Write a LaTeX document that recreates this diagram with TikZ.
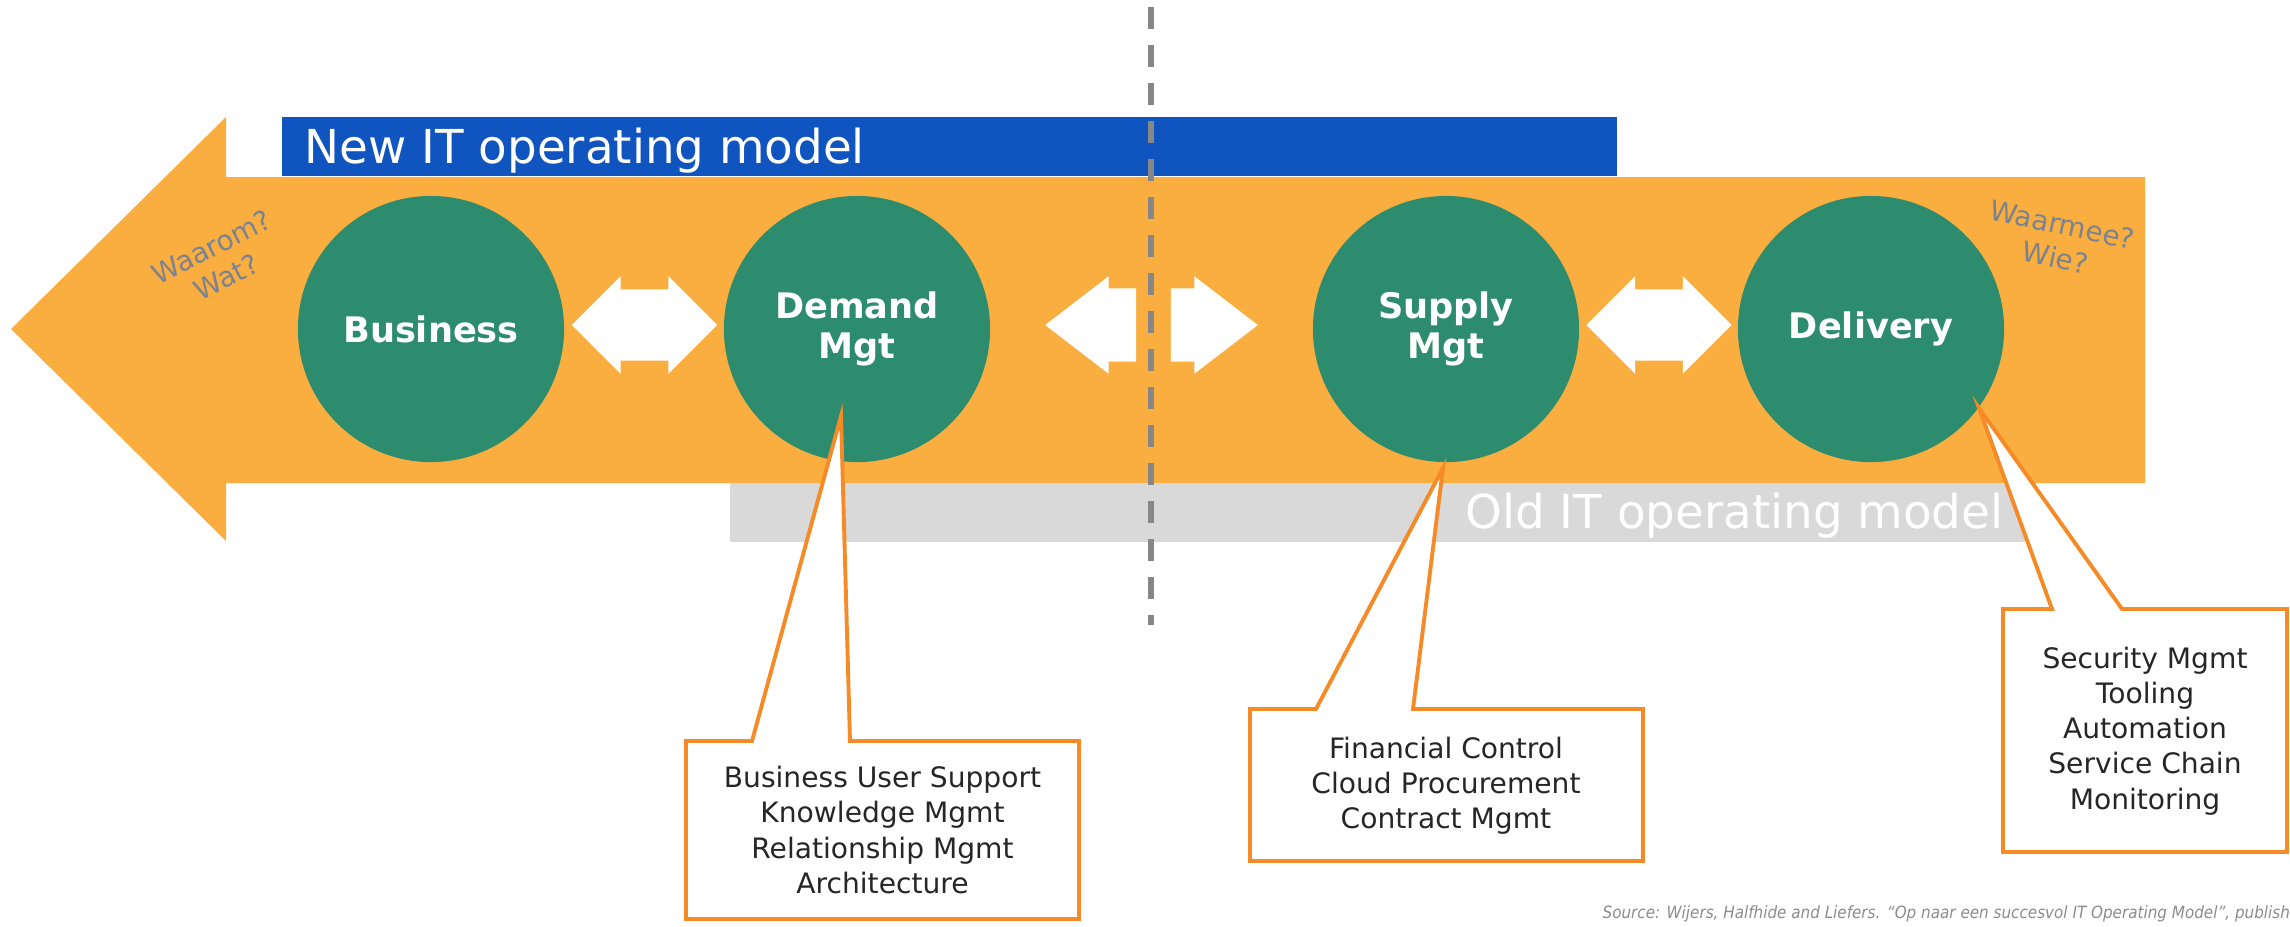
\documentclass[tikz,border=0pt]{standalone}
\usepackage{fontspec}
\setmainfont{DejaVu Sans}
\usepackage{xcolor}
\usepackage{tikz}
\usetikzlibrary{positioning,shapes.arrows}
\definecolor{bandorange}{HTML}{FAAE40}
\definecolor{hubgreen}{HTML}{2D8B6E}
\definecolor{newblue}{HTML}{1055BF}
\definecolor{oldgrey}{HTML}{D9D9D9}
\definecolor{calloutline}{HTML}{F58A26}
\definecolor{askgrey}{HTML}{7B8290}

\begin{document}
\begin{tikzpicture}[x=0.01cm,y=-0.01cm,
	hub/.style={circle,fill=hubgreen,minimum size=2.66cm,inner sep=0pt,text=white,align=center,font=\bfseries\fontsize{10}{11.6}\selectfont},
	twoway/.style={double arrow,fill=white,inner sep=0pt,text height=0.35cm,text depth=0.35cm,minimum height=1.45cm,minimum width=0.96cm,double arrow head extend=0.13cm,double arrow tip angle=90},
	oneway/.style={single arrow,fill=white,inner sep=0pt,text height=0.36cm,text depth=0.36cm,minimum width=0.96cm,single arrow head extend=0.12cm,single arrow tip angle=75},
	bartext/.style={text=white,inner sep=0pt,font=\fontsize{13.3}{16}\selectfont},
	askme/.style={text=askgrey,align=center,inner sep=0pt,font=\fontsize{7.9}{9.6}\selectfont},
	note/.style={text=black!85,align=center,inner sep=0pt,font=\fontsize{8}{10}\selectfont},
	callout/.style={draw=calloutline,fill=white,line width=1.1pt,line join=miter},
	divider/.style={draw=black!47,line width=1.7pt,dash pattern=on 0.22cm off 0.16cm}]
	\useasboundingbox (0,0) rectangle (2290,926);

	% big arrow and the two bars
	\fill[bandorange] (11,329) -- (226,117) -- (226,177) -- (2145,177) -- (2145,483) -- (226,483) -- (226,541) -- cycle;
	\fill[newblue] (282,117) rectangle (1617,176);
	\fill[oldgrey] (730,483) rectangle (2028,542);
	\node[bartext,anchor=base west] (newlbl) at (304,163) {New IT operating model};
	\node[bartext,anchor=base east] (oldlbl) at (2004,528) {Old IT operating model};

	\draw[divider] (1151,7) -- (1151,625);

	\node[hub] (biz) at (431,329) {Business};
	\node[hub] (dem) at (857,329) {Demand\\Mgt};
	\node[hub] (sup) at (1446,329) {Supply\\Mgt};
	\node[hub] (del) at (1871,329) {Delivery};

	\node[twoway] (bizdem) at (644.5,325) {};
	\node[twoway] (supdel) at (1659,325) {};
	\node[oneway,minimum height=0.91cm,shape border rotate=180,anchor=tip] (todem) at (1044,325) {};
	\node[oneway,minimum height=0.87cm,anchor=tip] (tosup) at (1259,325) {};

	\node[askme,rotate=27] (why) at (219,262) {Waarom?\\Wat?};
	\node[askme,rotate=-12] (how) at (2059,241) {Waarmee?\\Wie?};

	% callouts
	\coordinate (demtip) at (841,416);
	\coordinate (suptip) at (1443,468);
	\coordinate (deltip) at (1979,408);
	\draw[callout] (686,741) -- (752,741) -- (demtip) -- (850,741) -- (1079,741) -- (1079,919) -- (686,919) -- cycle;
	\draw[callout] (1250,709) -- (1316,709) -- (suptip) -- (1413,709) -- (1643,709) -- (1643,861) -- (1250,861) -- cycle;
	\draw[callout] (2003,609) -- (2052,609) -- (deltip) -- (2122,609) -- (2287,609) -- (2287,852) -- (2003,852) -- cycle;
	\node[note] (demnote) at (882.5,830) {Business User Support\\Knowledge Mgmt\\Relationship Mgmt\\Architecture};
	\node[note] (supnote) at (1446,786) {Financial Control\\Cloud Procurement\\Contract Mgmt};
	\node[note] (delnote) at (2145,731) {Security Mgmt\\Tooling\\Automation\\Service Chain\\Monitoring};

	\node[anchor=base west,inner sep=0pt,xscale=0.9,text=black!45,font=\itshape\fontsize{4.8}{5}\selectfont] (source) at (1602,918) {Source: Wijers, Halfhide and Liefers. “Op naar een succesvol IT Operating Model”, publish};
\end{tikzpicture}
\end{document}
